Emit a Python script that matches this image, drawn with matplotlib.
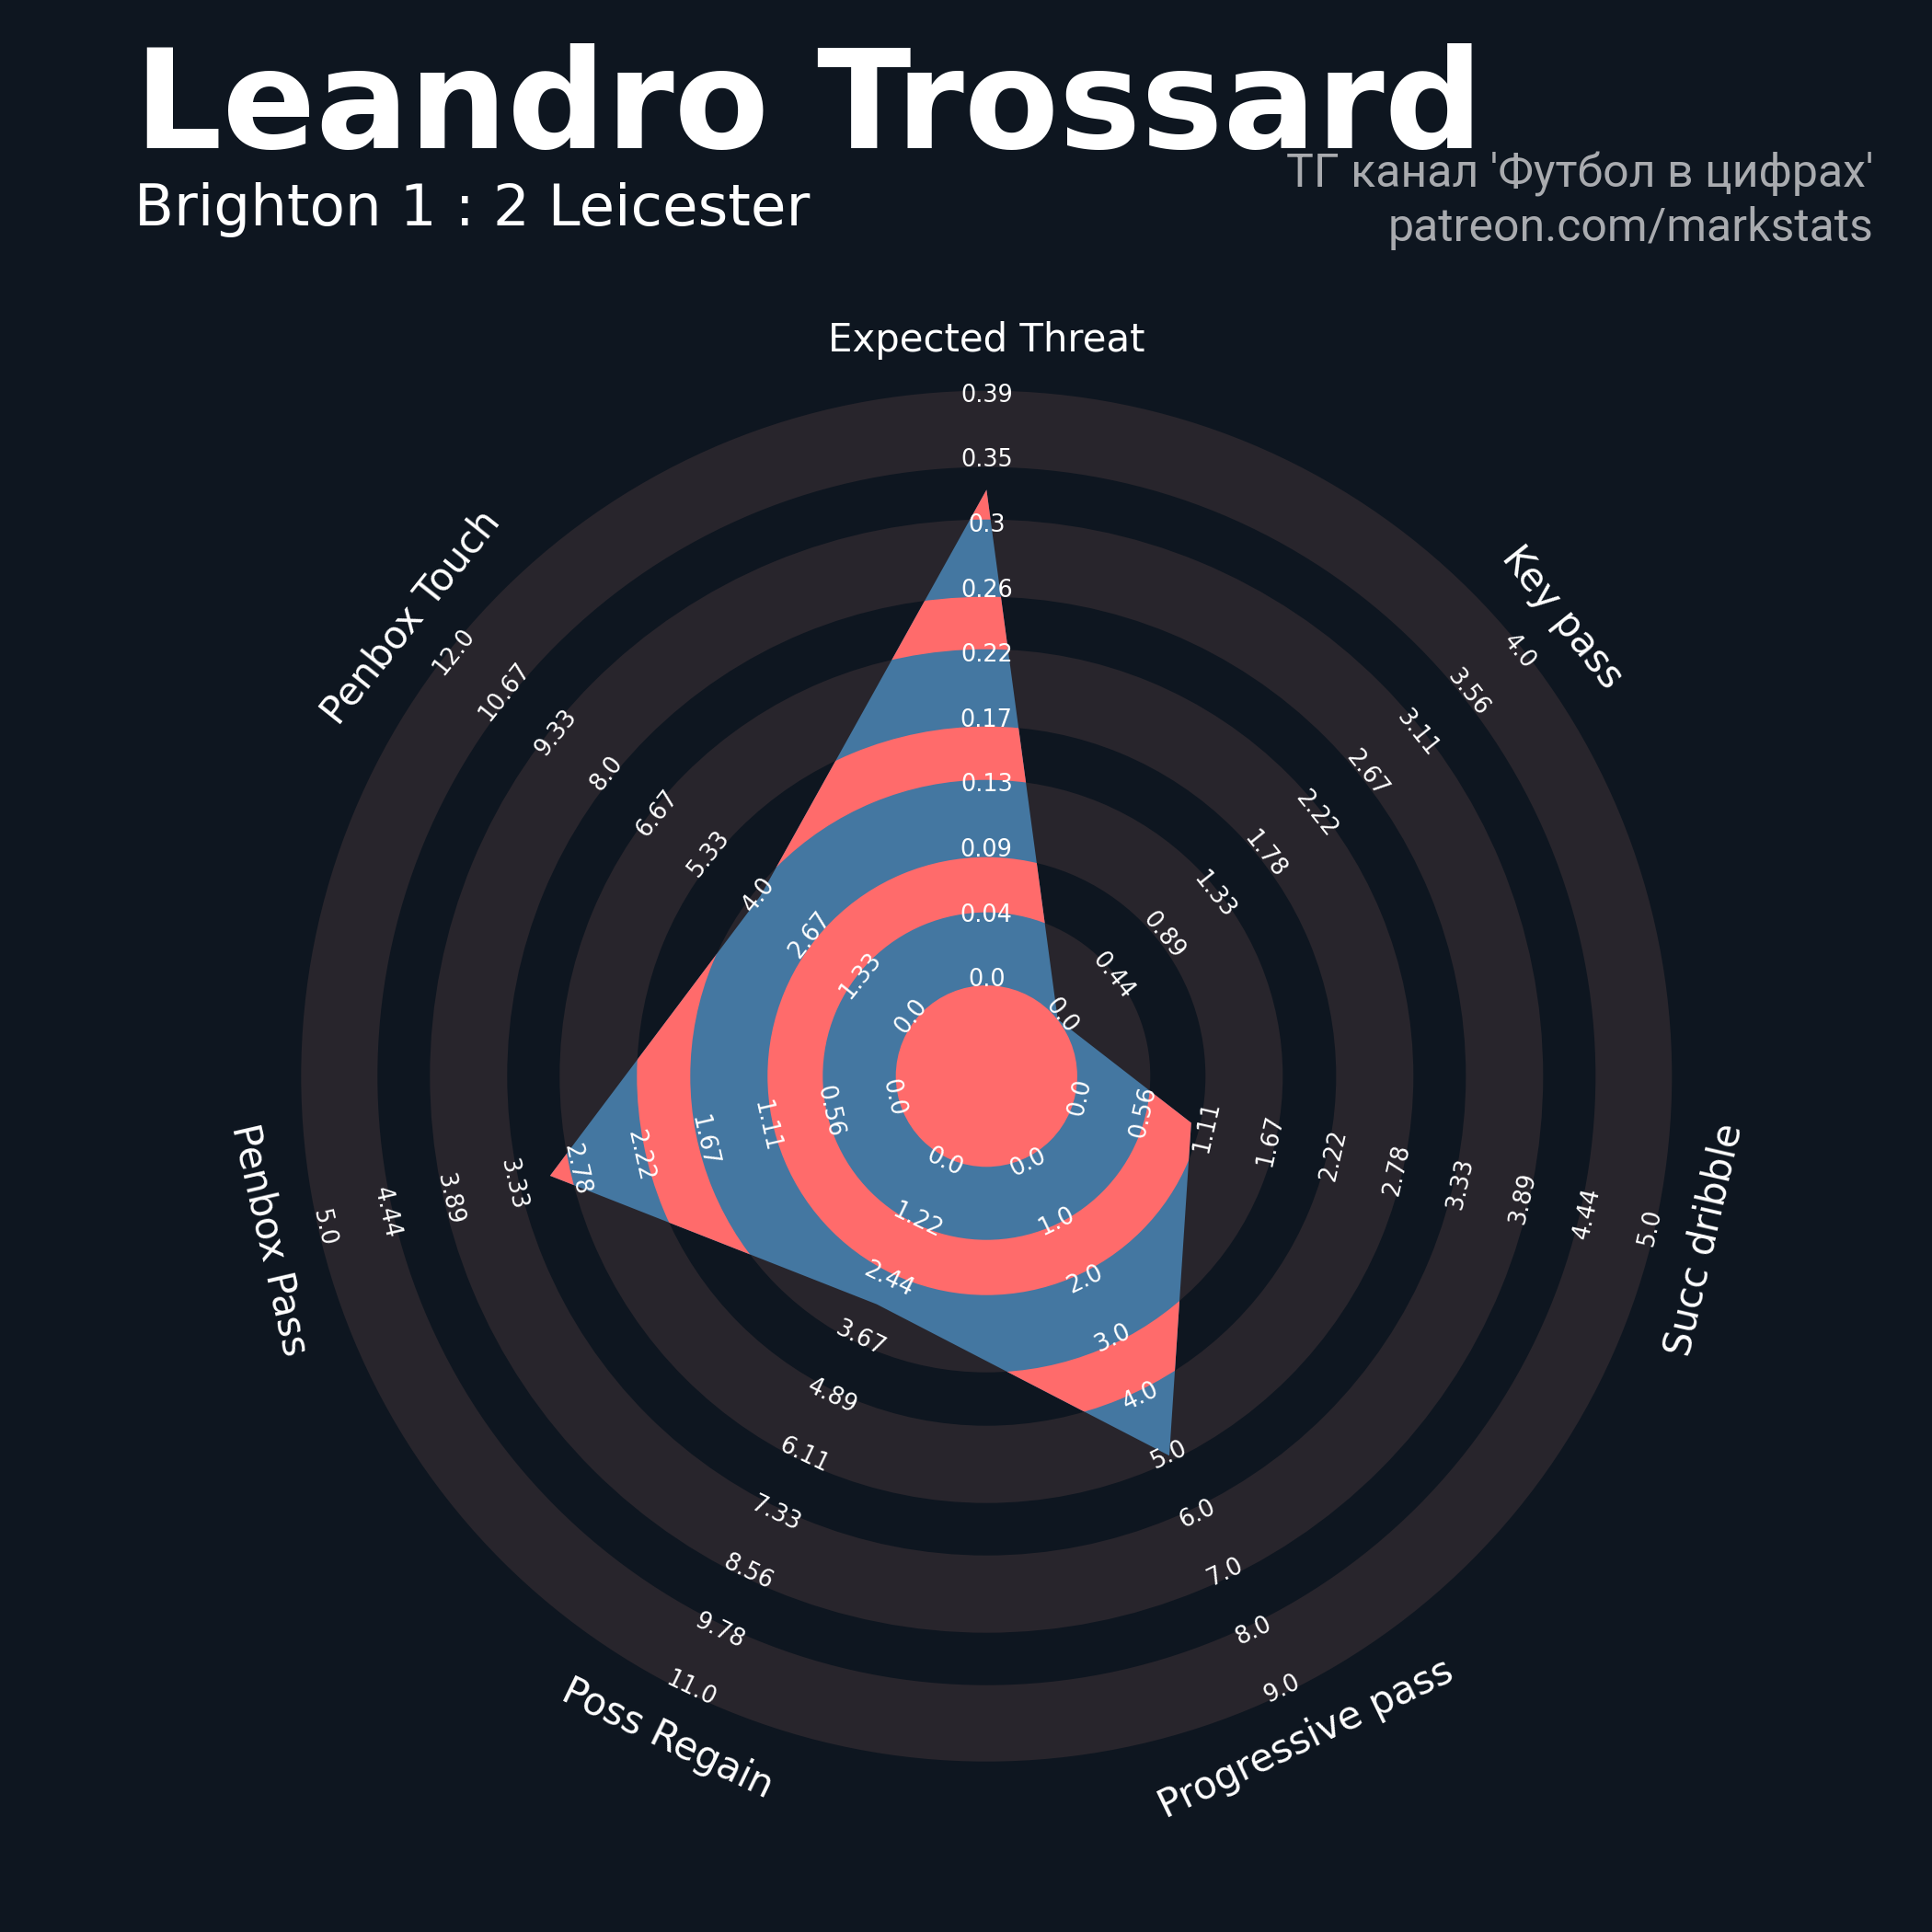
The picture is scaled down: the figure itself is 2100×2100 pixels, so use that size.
import numpy as np
import matplotlib
matplotlib.use('Agg')
import matplotlib.pyplot as plt
from matplotlib.patches import Polygon, Wedge, Circle

# ---------------- data ----------------
params = ['Expected Threat', 'Key pass', 'Succ dribble', 'Progressive pass',
          'Poss Regain', 'Penbox Pass', 'Penbox Touch']
low = [0, 0, 0, 0, 0, 0, 0]
high = [0.39, 4, 5, 9, 11, 5, 12]
values = [0.325, 0, 1, 5, 3, 3, 4]

title = 'Leandro Trossard'
subtitle = 'Brighton 1 : 2 Leicester'
credit_lines = ["ТГ канал 'Футбол в цифрах'", 'patreon.com/markstats']

# ---------------- style / layout ----------------
BG = '#0e1620'
RING = '#28252c'
BLUE = '#4477a1'
RED = '#ff6b6b'
CREDIT_COLOR = '#a9abaf'

W = 2100
CX, CY = 1072.3, 1169.7          # radar centre (pixels from top-left)
R0 = 99.0                        # radius of minimum value
RMAX = 745.0                     # radius of maximum value
CENTER_R = 98.6
GRAY_RINGS = [(98.6, 178), (238, 322), (380, 464), (521, 605), (662, 745)]
LABEL_R0, LABEL_STEP = 104.5, 70.6
N_LABELS = 10
PARAM_R = 800

fig = plt.figure(figsize=(10.5, 10.5), dpi=200, facecolor=BG)
ax = fig.add_axes([0, 0, 1, 1])
ax.set_xlim(-CX, W - CX)
ax.set_ylim(-(W - CY), CY)
ax.set_aspect('equal')
ax.axis('off')

n = len(params)
theta_deg = 90 - np.arange(n) * 360 / n
theta_deg = (theta_deg + 180) % 360 - 180
theta = np.deg2rad(theta_deg)


def text_rotation(t):
    rot = t - 90
    if rot < -90:
        rot += 180
    return rot


# background rings
for r_in, r_out in GRAY_RINGS:
    ax.add_patch(Wedge((0, 0), r_out, 0, 360, width=r_out - r_in,
                       facecolor=RING, edgecolor='none', zorder=1))

# radar polygon
lo = np.array(low, float)
hi = np.array(high, float)
v = np.array(values, float)
radius = R0 + (v - lo) / (hi - lo) * (RMAX - R0)
verts = np.column_stack([radius * np.cos(theta), radius * np.sin(theta)])
poly = Polygon(verts, closed=True, facecolor=BLUE, edgecolor='none', zorder=3)
ax.add_patch(poly)

# alternating rings inside radar
red_patches = [Circle((0, 0), CENTER_R)]
for i in range(len(GRAY_RINGS) - 1):
    r_in = GRAY_RINGS[i][1]
    r_out = GRAY_RINGS[i + 1][0]
    red_patches.append(Wedge((0, 0), r_out, 0, 360, width=r_out - r_in))
for p in red_patches:
    p.set_facecolor(RED)
    p.set_edgecolor('none')
    p.set_zorder(4)
    ax.add_patch(p)
    p.set_clip_path(poly)

# range labels
for i in range(n):
    rot = text_rotation(theta_deg[i])
    labels = np.linspace(low[i], high[i], N_LABELS)
    for k, lab in enumerate(labels):
        r = LABEL_R0 + k * LABEL_STEP
        ax.text(r * np.cos(theta[i]), r * np.sin(theta[i]), str(round(float(lab), 2)),
                rotation=rot, rotation_mode='anchor', ha='center', va='center',
                fontsize=9.2, color='white', zorder=6)

# parameter labels
for i in range(n):
    rot = text_rotation(theta_deg[i])
    ax.text(PARAM_R * np.cos(theta[i]), PARAM_R * np.sin(theta[i]), params[i],
            rotation=rot, rotation_mode='anchor', ha='center', va='center',
            fontsize=15.1, color='white', zorder=6)

# titles
fig.text(146 / W, 1 - 160.7 / W, title, fontsize=54, fontweight='bold',
         color='white', ha='left', va='baseline')
fig.text(146 / W, 1 - 245 / W, subtitle, fontsize=22.6,
         color='white', ha='left', va='baseline')
fig.text(2037 / W, 1 - 203 / W, credit_lines[0], fontsize=18, family='Roboto',
         color=CREDIT_COLOR, ha='right', va='baseline')
fig.text(2037 / W, 1 - 262 / W, credit_lines[1], fontsize=18, family='Roboto',
         color=CREDIT_COLOR, ha='right', va='baseline')

fig.savefig('out.png', dpi=200, facecolor=BG)
